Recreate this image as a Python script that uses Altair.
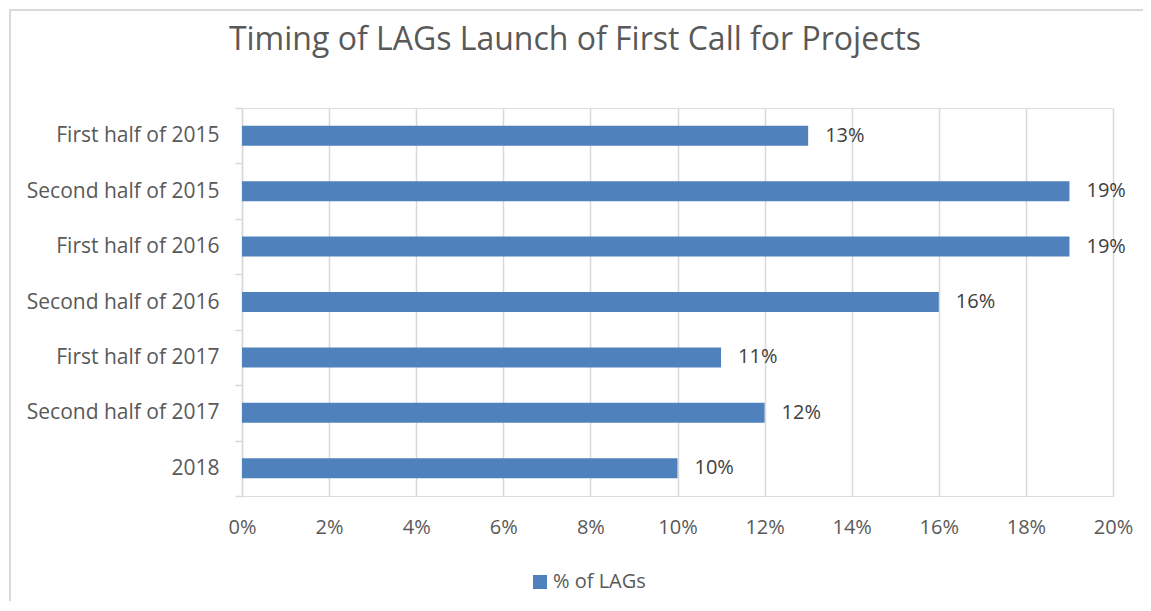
import altair as alt
import pandas as pd

categories = ["First half of 2015", "Second half of 2015", "First half of 2016",
              "Second half of 2016", "First half of 2017", "Second half of 2017", "2018"]
values = [0.13, 0.19, 0.19, 0.16, 0.11, 0.12, 0.10]
series_name = "% of LAGs"
title_text = "Timing of LAGs Launch of First Call for Projects"
x_ticks = [0, 0.02, 0.04, 0.06, 0.08, 0.10, 0.12, 0.14, 0.16, 0.18, 0.20]

df = pd.DataFrame({"cat": categories, "val": values, "series": series_name})
FONT = "Open Sans"
W, H = 871, 388
PAD_R = 30

y_enc = alt.Y("cat:N", sort=categories, title=None,
              scale=alt.Scale(paddingInner=0, paddingOuter=0),
              axis=alt.Axis(labelFontSize=21, labelColor="#595959", labelFont=FONT,
                            labelLimit=400,
                            domainColor="#d9d9d9", domainWidth=1.5,
                            tickColor="#d9d9d9", tickWidth=1.5, tickSize=7,
                            tickBand="extent", labelPadding=16, grid=False))
x_enc = alt.X("val:Q", title=None, scale=alt.Scale(domain=[0, 0.2], nice=False),
              axis=alt.Axis(values=x_ticks, format=".0%", labelFontSize=20,
                            labelColor="#595959", labelFont=FONT, domain=False,
                            ticks=False, grid=True, gridColor="#d9d9d9", gridWidth=1.5,
                            labelPadding=21, labelFlush=False))

bars = alt.Chart(df).mark_bar(size=20).encode(
    x=x_enc, y=y_enc,
    color=alt.Color("series:N", title=None,
                    scale=alt.Scale(domain=[series_name], range=["#4f81bd"]),
                    legend=alt.Legend(orient="none", legendX=288, legendY=464,
                                      symbolType="square", symbolSize=196,
                                      symbolStrokeWidth=0,
                                      labelFontSize=20, labelColor="#595959",
                                      labelFont=FONT, labelOffset=3)),
)

labels = alt.Chart(df).mark_text(align="left", baseline="middle", dx=17,
                                 fontSize=20, font=FONT, color="#404040").encode(
    x="val:Q", y=alt.Y("cat:N", sort=categories), text=alt.Text("val:Q", format=".0%"))

tdf = pd.DataFrame({"t": [title_text]})
title = alt.Chart(tdf).mark_text(align="center", baseline="alphabetic", fontSize=32,
                                 font=FONT, color="#595959").encode(
    x=alt.value(333), y=alt.value(-58), text="t:N")

bdf = pd.DataFrame({"b": [0]})
frame = alt.Chart(bdf).mark_rect(fill="white", fillOpacity=0, stroke="#d9d9d9",
                                 strokeWidth=2).encode(
    x=alt.value(-232), x2=alt.value(W + PAD_R + 40), y=alt.value(-98), y2=alt.value(H + 200))

chart = alt.layer(bars, labels, title, frame).properties(
    width=W, height=H,
    padding={"left": 234, "top": 100, "right": PAD_R, "bottom": 105},
    autosize=alt.AutoSizeParams(type="none"),
).configure_view(stroke=None).configure(background="white")

chart.save("out.html", embed_options={"renderer": "svg", "actions": False})
